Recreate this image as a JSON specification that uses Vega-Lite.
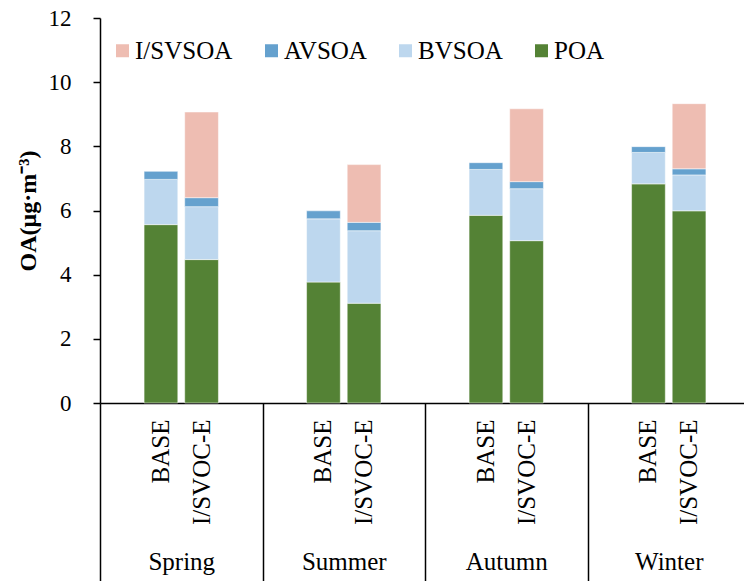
{
  "$schema": "https://vega.github.io/schema/vega-lite/v6.json",
  "width": 644,
  "height": 385,
  "autosize": {"type": "none"},
  "padding": {"left": 100, "top": 18, "right": 0, "bottom": 178},
  "background": "white",
  "config": {
    "view": {"stroke": null},
    "font": "Liberation Serif",
    "axis": {"labelFont": "Liberation Serif", "titleFont": "Liberation Serif", "labelColor": "black", "titleColor": "black", "grid": false},
    "legend": {"labelFont": "Liberation Serif"}
  },
  "data": {
    "values": [
      {"season": "Spring", "scenario": "BASE", "bar": "Spring|BASE", "component": "POA", "value": 5.56},
      {"season": "Spring", "scenario": "BASE", "bar": "Spring|BASE", "component": "BVSOA", "value": 1.41},
      {"season": "Spring", "scenario": "BASE", "bar": "Spring|BASE", "component": "AVSOA", "value": 0.25},
      {"season": "Spring", "scenario": "I/SVOC-E", "bar": "Spring|I/SVOC-E", "component": "POA", "value": 4.47},
      {"season": "Spring", "scenario": "I/SVOC-E", "bar": "Spring|I/SVOC-E", "component": "BVSOA", "value": 1.65},
      {"season": "Spring", "scenario": "I/SVOC-E", "bar": "Spring|I/SVOC-E", "component": "AVSOA", "value": 0.28},
      {"season": "Spring", "scenario": "I/SVOC-E", "bar": "Spring|I/SVOC-E", "component": "I/SVSOA", "value": 2.67},
      {"season": "Summer", "scenario": "BASE", "bar": "Summer|BASE", "component": "POA", "value": 3.77},
      {"season": "Summer", "scenario": "BASE", "bar": "Summer|BASE", "component": "BVSOA", "value": 1.97},
      {"season": "Summer", "scenario": "BASE", "bar": "Summer|BASE", "component": "AVSOA", "value": 0.25},
      {"season": "Summer", "scenario": "I/SVOC-E", "bar": "Summer|I/SVOC-E", "component": "POA", "value": 3.11},
      {"season": "Summer", "scenario": "I/SVOC-E", "bar": "Summer|I/SVOC-E", "component": "BVSOA", "value": 2.26},
      {"season": "Summer", "scenario": "I/SVOC-E", "bar": "Summer|I/SVOC-E", "component": "AVSOA", "value": 0.26},
      {"season": "Summer", "scenario": "I/SVOC-E", "bar": "Summer|I/SVOC-E", "component": "I/SVSOA", "value": 1.80},
      {"season": "Autumn", "scenario": "BASE", "bar": "Autumn|BASE", "component": "POA", "value": 5.85},
      {"season": "Autumn", "scenario": "BASE", "bar": "Autumn|BASE", "component": "BVSOA", "value": 1.43},
      {"season": "Autumn", "scenario": "BASE", "bar": "Autumn|BASE", "component": "AVSOA", "value": 0.21},
      {"season": "Autumn", "scenario": "I/SVOC-E", "bar": "Autumn|I/SVOC-E", "component": "POA", "value": 5.06},
      {"season": "Autumn", "scenario": "I/SVOC-E", "bar": "Autumn|I/SVOC-E", "component": "BVSOA", "value": 1.62},
      {"season": "Autumn", "scenario": "I/SVOC-E", "bar": "Autumn|I/SVOC-E", "component": "AVSOA", "value": 0.22},
      {"season": "Autumn", "scenario": "I/SVOC-E", "bar": "Autumn|I/SVOC-E", "component": "I/SVSOA", "value": 2.27},
      {"season": "Winter", "scenario": "BASE", "bar": "Winter|BASE", "component": "POA", "value": 6.83},
      {"season": "Winter", "scenario": "BASE", "bar": "Winter|BASE", "component": "BVSOA", "value": 0.98},
      {"season": "Winter", "scenario": "BASE", "bar": "Winter|BASE", "component": "AVSOA", "value": 0.18},
      {"season": "Winter", "scenario": "I/SVOC-E", "bar": "Winter|I/SVOC-E", "component": "POA", "value": 5.99},
      {"season": "Winter", "scenario": "I/SVOC-E", "bar": "Winter|I/SVOC-E", "component": "BVSOA", "value": 1.12},
      {"season": "Winter", "scenario": "I/SVOC-E", "bar": "Winter|I/SVOC-E", "component": "AVSOA", "value": 0.19},
      {"season": "Winter", "scenario": "I/SVOC-E", "bar": "Winter|I/SVOC-E", "component": "I/SVSOA", "value": 2.03}
    ]
  },
  "layer": [
    {
      "mark": {"type": "bar", "stroke": "white", "strokeOpacity": 0.5, "strokeWidth": 1},
      "encoding": {
        "x": {
          "field": "bar",
          "type": "nominal",
          "scale": {
            "domain": ["Spring-a", "Spring|BASE", "Spring|I/SVOC-E", "Spring-b", "Summer-a", "Summer|BASE", "Summer|I/SVOC-E", "Summer-b", "Autumn-a", "Autumn|BASE", "Autumn|I/SVOC-E", "Autumn-b", "Winter-a", "Winter|BASE", "Winter|I/SVOC-E", "Winter-b"],
            "range": [0, 650],
            "paddingInner": 0.17,
            "paddingOuter": 0.085
          },
          "axis": {
            "orient": "bottom",
            "title": null,
            "ticks": false,
            "domain": true,
            "domainColor": "black",
            "domainWidth": 1.5,
            "labelAngle": -90,
            "labelFontSize": 25,
            "labelPadding": 16,
            "labelLimit": 300,
            "labelExpr": "indexof(datum.value, '|') > 0 ? split(datum.value, '|')[1] : ''"
          }
        },
        "y": {
          "field": "value",
          "type": "quantitative",
          "stack": "zero",
          "scale": {"domain": [0, 12], "nice": false},
          "axis": {
            "title": "OA(μg·m⁻³)",
            "titleFontSize": 24,
            "titleFontWeight": "bold",
            "titlePadding": 8,
            "values": [0, 2, 4, 6, 8, 10, 12],
            "labelFontSize": 23,
            "labelPadding": 22,
            "tickSize": 7,
            "tickColor": "black",
            "tickWidth": 1.5,
            "domainColor": "black",
            "domainWidth": 1.5
          }
        },
        "order": {"field": "scenario"},
        "color": {
          "field": "component",
          "type": "nominal",
          "scale": {
            "domain": ["POA", "BVSOA", "AVSOA", "I/SVSOA"],
            "range": ["#548235", "#BDD7EE", "#65A1CE", "#EEBDB2"]
          },
          "legend": {
            "title": null,
            "orient": "none",
            "legendX": 10,
            "legendY": 20,
            "direction": "horizontal",
            "values": ["I/SVSOA", "AVSOA", "BVSOA", "POA"],
            "symbolType": "square",
            "symbolSize": 169,
            "symbolStrokeWidth": 0,
            "symbolOpacity": 1,
            "labelFontSize": 25,
            "labelColor": "black",
            "labelOffset": 0,
            "columnPadding": 26,
            "labelLimit": 300,
            "padding": 0
          }
        }
      }
    },
    {
      "mark": {"type": "point", "opacity": 0},
      "encoding": {
        "x": {
          "field": "season",
          "type": "nominal",
          "sort": ["Spring", "Summer", "Autumn", "Winter"],
          "scale": {
            "domain": ["Spring", "Summer", "Autumn", "Winter"],
            "range": [0, 650],
            "paddingInner": 0,
            "paddingOuter": 0
          },
          "axis": {
            "orient": "bottom",
            "title": null,
            "domain": false,
            "ticks": true,
            "tickBand": "extent",
            "tickSize": 180,
            "tickColor": "black",
            "tickWidth": 1.5,
            "labelAngle": 0,
            "labelFontSize": 25,
            "labelPadding": -34
          }
        }
      }
    }
  ],
  "resolve": {"scale": {"x": "independent"}, "axis": {"x": "independent"}}
}
